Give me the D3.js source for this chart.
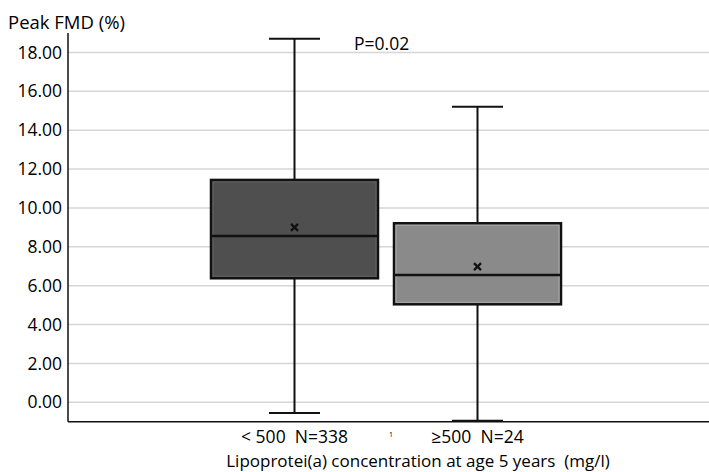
<!DOCTYPE html>
<html><head><meta charset="utf-8">
<script src="https://cdn.jsdelivr.net/npm/d3@7"></script>
<style>body{margin:0;background:#fff}svg{display:block}text{font-family:"Open Sans",sans-serif;fill:#000;white-space:pre}</style>
</head><body>
<svg id="c" width="709" height="472"></svg>
<script>
const categories = ["< 500  N=338", "\u2265500  N=24"];
const whiskerLow = [-0.55, -0.95];
const q1 = [6.38, 5.04];
const median = [8.56, 6.55];
const q3 = [11.44, 9.21];
const whiskerHigh = [18.7, 15.2];
const means = [9.0, 6.98];
const fills = ["#4f4f4f", "#8a8a8a"];
const yTicks = [0, 2, 4, 6, 8, 10, 12, 14, 16, 18];

const svg = d3.select("#c");
const pLeft = 68, pRight = 709, pTop = 33, pBottom = 421.7;
const y = d3.scaleLinear().domain([-1, 19]).range([pBottom, pTop]);
const x = d3.scalePoint().domain(categories).range([294.5, 477.5]);

// gridlines
svg.append("g").selectAll("line").data(yTicks).join("line")
  .attr("x1", pLeft).attr("x2", pRight).attr("y1", d => y(d)).attr("y2", d => y(d))
  .attr("stroke", "#d6d6d6").attr("stroke-width", 1.5);

// y axis
const yAxis = d3.axisLeft(y).tickValues(yTicks).tickFormat(d3.format(".2f")).tickSize(0).tickPadding(6);
const ga = svg.append("g").attr("transform", `translate(${pLeft},0)`).call(yAxis);
ga.select(".domain").remove();
ga.selectAll("text").style("font-size", "17.5px").attr("fill", "#000");
svg.append("line").attr("x1", pLeft).attr("x2", pLeft).attr("y1", pTop).attr("y2", pBottom).attr("stroke", "#111").attr("stroke-width", 1.5);
svg.append("line").attr("x1", pLeft).attr("x2", pRight).attr("y1", pBottom).attr("y2", pBottom).attr("stroke", "#111").attr("stroke-width", 1.5);

// boxes
const boxW = 167, capW = 51;
categories.forEach((c, i) => {
  const cx = x(c);
  const g = svg.append("g");
  g.append("line").attr("x1", cx).attr("x2", cx).attr("y1", y(whiskerHigh[i])).attr("y2", y(whiskerLow[i])).attr("stroke", "#111").attr("stroke-width", 2);
  [whiskerHigh[i], whiskerLow[i]].forEach(v => {
    g.append("line").attr("x1", cx - capW / 2).attr("x2", cx + capW / 2).attr("y1", y(v)).attr("y2", y(v)).attr("stroke", "#111").attr("stroke-width", 2);
  });
  g.append("rect").attr("x", cx - boxW / 2).attr("y", y(q3[i])).attr("width", boxW).attr("height", y(q1[i]) - y(q3[i]))
    .attr("fill", fills[i]).attr("stroke", "#111").attr("stroke-width", 2.5);
  g.append("rect").attr("x", cx - boxW / 2 + 2).attr("y", y(q3[i]) + 2).attr("width", boxW - 4).attr("height", y(q1[i]) - y(q3[i]) - 4)
    .attr("fill", "none").attr("stroke", d3.color(fills[i]).brighter(0.6)).attr("stroke-width", 1);
  g.append("line").attr("x1", cx - boxW / 2).attr("x2", cx + boxW / 2).attr("y1", y(median[i])).attr("y2", y(median[i])).attr("stroke", "#111").attr("stroke-width", 2.5);
  const my = y(means[i]), s = 3.5;
  g.append("path").attr("d", `M${cx - s},${my - s}L${cx + s},${my + s}M${cx - s},${my + s}L${cx + s},${my - s}`).attr("stroke", "#111").attr("stroke-width", 2.2);
  g.append("text").attr("x", cx).attr("y", 443).attr("text-anchor", "middle").style("font-size", "17.5px").text(c);
});

svg.append("text").attr("x", 391).attr("y", 437).attr("text-anchor", "middle").style("font-size", "7px").text("1");
svg.append("text").attr("x", 8).attr("y", 29).style("font-size", "18.5px").text("Peak FMD (%)");
svg.append("text").attr("x", 354).attr("y", 50).style("font-size", "17.5px").text("P=0.02");
svg.append("text").attr("x", 418).attr("y", 467).attr("text-anchor", "middle").style("font-size", "17px").text("Lipoprotei(a) concentration at age 5 years  (mg/l)");
</script>
</body></html>
